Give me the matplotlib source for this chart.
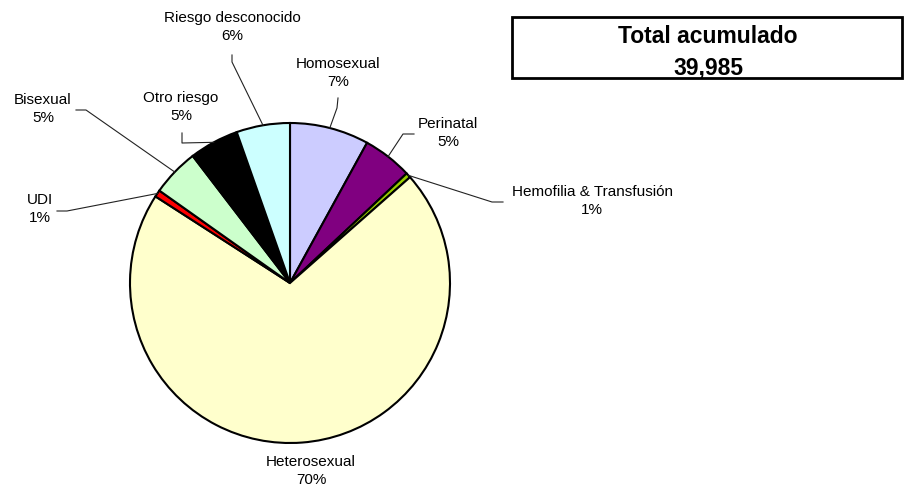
import matplotlib.pyplot as plt
import numpy as np
from matplotlib.patches import Rectangle

plt.rcParams['font.family'] = ['Liberation Sans', 'DejaVu Sans']

# datos (porcentaje del total acumulado), en sentido horario desde arriba
categorias = ['Homosexual', 'Perinatal', 'Hemofilia & Transfusión', 'Heterosexual',
              'UDI', 'Bisexual', 'Otro riesgo', 'Riesgo desconocido']
valores = [8.0, 5.0, 0.5, 70.6, 0.7, 4.8, 5.0, 5.4]
etiquetas_pct = ['7%', '5%', '1%', '70%', '1%', '5%', '5%', '6%']
colores = ['#CCCCFF', '#800080', '#99CC00', '#FFFFCC',
           '#FF0000', '#CCFFCC', '#000000', '#CCFFFF']
total = '39,985'

W, H = 905, 491
def py(y):   # coordenadas de pixel (desde arriba) -> ejes
    return H - y

fig = plt.figure(figsize=(W/100, H/100), dpi=100)
ax = fig.add_axes([0, 0, 1, 1])

cx, cy, r = 290, 283, 160
wedges, _ = ax.pie(valores, colors=colores, startangle=90, counterclock=False,
                   center=(cx, py(cy)), radius=r,
                   wedgeprops=dict(edgecolor='black', linewidth=1.5))

# posicion del texto y codo de la linea guia (pixeles)
pos_texto = [(338, 73), (448, 133), (592, 201), (311, 471),
             (40, 209), (43, 109), (181, 107), (232, 27)]
guias = [[(338, 98), (337, 108)],
         [(414, 134), (403, 134)],
         [(503, 202), (492, 202)],
         None,
         [(57, 211), (67, 211)],
         [(76, 110), (86, 110)],
         [(182, 133), (182, 143)],
         [(232, 55), (232, 62)]]

for w, cat, pct, (tx, ty), g in zip(wedges, categorias, etiquetas_pct, pos_texto, guias):
    ax.text(tx, py(ty), cat + '\n' + pct, ha='center', va='center',
            fontsize=11, linespacing=1.45)
    if g is None:
        continue
    th = np.deg2rad((w.theta1 + w.theta2) / 2)
    ex, ey = cx + r*np.cos(th), py(cy) + r*np.sin(th)
    xs = [g[0][0], g[1][0], ex]
    ys = [py(g[0][1]), py(g[1][1]), ey]
    ax.plot(xs, ys, color='#222222', linewidth=0.8)

# recuadro del total
ax.add_patch(Rectangle((512, py(78)), 390, 61, fill=False,
                       edgecolor='black', linewidth=2))
ax.text(708, py(52), 'Total acumulado\n' + total, ha='center', va='center',
        fontsize=16.5, fontweight='bold', linespacing=1.45)

ax.set_xlim(0, W)
ax.set_ylim(0, H)
ax.set_aspect('auto')
ax.axis('off')

plt.savefig('out.png', dpi=100)
